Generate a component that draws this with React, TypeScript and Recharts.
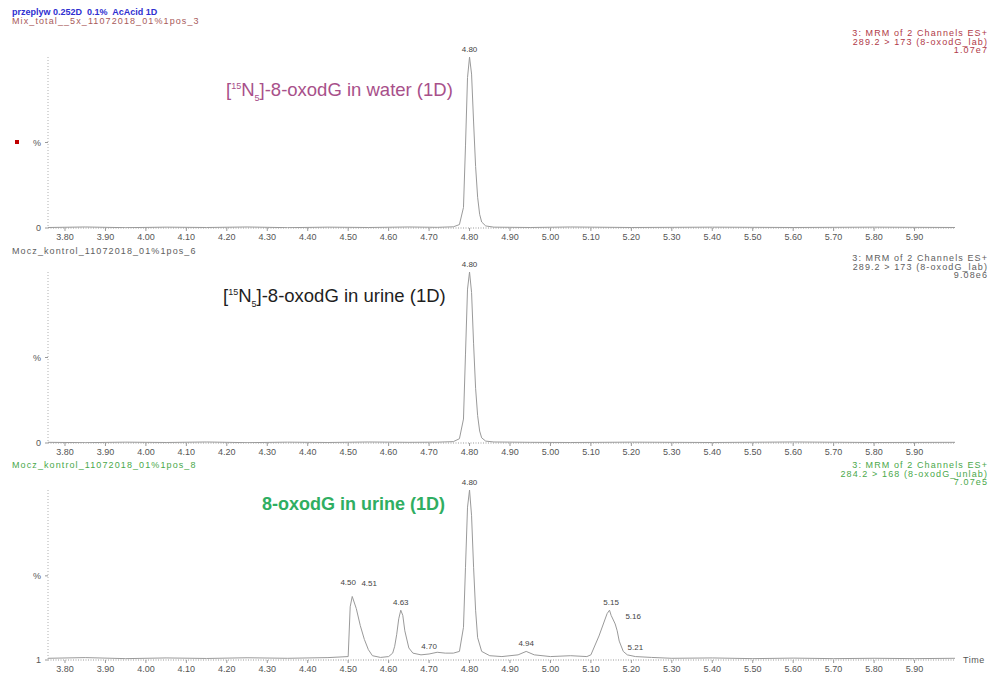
import React from "react";
import {
  LineChart,
  Line,
  XAxis,
  YAxis,
  ReferenceDot,
} from "recharts";

// retention time axis (min)
const timeTicks = [
  3.8, 3.9, 4.0, 4.1, 4.2, 4.3, 4.4, 4.5, 4.6, 4.7, 4.8, 4.9, 5.0, 5.1, 5.2,
  5.3, 5.4, 5.5, 5.6, 5.7, 5.8, 5.9,
];

// channel 1: labelled standard in water, 289.2 > 173
const waterTimes = [
  3.758, 3.85, 3.95, 4.05, 4.15, 4.25, 4.35, 4.45, 4.55, 4.65, 4.72, 4.76,
  4.775, 4.785, 4.79, 4.795, 4.8, 4.805, 4.81, 4.815, 4.82, 4.825, 4.83, 4.84,
  4.86, 4.95, 5.05, 5.2, 5.4, 5.6, 5.8, 6.0,
];
const waterSignal = [
  0.3, 0.6, 0.2, 0.5, 0.3, 0.6, 0.2, 0.5, 0.3, 0.6, 0.4, 0.7, 2, 12, 48, 88,
  100, 90, 62, 36, 18, 8, 3.5, 1.2, 0.5, 0.3, 0.6, 0.3, 0.5, 0.3, 0.5, 0.3,
];

// channel 2: labelled standard in urine, 289.2 > 173
const urineLabTimes = [
  3.758, 3.85, 3.95, 4.05, 4.15, 4.25, 4.35, 4.45, 4.55, 4.65, 4.72, 4.76,
  4.775, 4.785, 4.79, 4.795, 4.8, 4.805, 4.81, 4.815, 4.82, 4.825, 4.83, 4.84,
  4.86, 4.95, 5.05, 5.2, 5.4, 5.6, 5.8, 6.0,
];
const urineLabSignal = [
  0.4, 0.2, 0.5, 0.3, 0.6, 0.2, 0.5, 0.3, 0.6, 0.4, 0.5, 0.8, 2.5, 14, 52, 90,
  100, 88, 58, 32, 16, 7, 3, 1.1, 0.6, 0.4, 0.3, 0.5, 0.3, 0.6, 0.3, 0.4,
];

// channel 3: native 8-oxodG in urine, 284.2 > 168
const urineTimes = [
  3.758, 3.85, 3.95, 4.05, 4.15, 4.25, 4.35, 4.45, 4.5, 4.505, 4.51, 4.52,
  4.53, 4.54, 4.55, 4.56, 4.58, 4.6, 4.61, 4.615, 4.62, 4.625, 4.63, 4.635,
  4.64, 4.65, 4.66, 4.68, 4.7, 4.72, 4.74, 4.76, 4.775, 4.785, 4.79, 4.795,
  4.8, 4.805, 4.81, 4.815, 4.82, 4.83, 4.85, 4.88, 4.92, 4.94, 4.96, 5.0,
  5.05, 5.09, 5.1, 5.12, 5.14, 5.146, 5.15, 5.16, 5.165, 5.17, 5.18, 5.19,
  5.21, 5.25, 5.3, 5.4, 5.5, 5.6, 5.7, 5.8, 5.9, 6.0,
];
const urineSignal = [
  2, 2.4, 1.8, 2.2, 1.9, 2.3, 2, 2.4, 3, 32, 38, 31, 21, 13, 7, 3.5, 2.5, 3,
  5, 9, 16, 25, 30, 27, 18, 8, 5, 4, 4.5, 5.5, 5, 5, 6, 20, 55, 90, 100, 85,
  55, 30, 14, 6, 3.5, 3, 4, 6, 4, 3, 3.5, 3, 4, 15, 28, 30, 27, 22, 18, 12, 6,
  4, 3, 2.5, 2, 2.2, 1.8, 2.1, 1.8, 2, 1.8, 2,
];

// integrated peak apexes (retention time, height)
const waterPeakTimes = [4.8];
const waterPeakHeights = [100];
const urineLabPeakTimes = [4.8];
const urineLabPeakHeights = [100];
const urinePeakTimes = [4.5, 4.51, 4.63, 4.7, 4.8, 4.94, 5.15, 5.16, 5.21];
const urinePeakHeights = [42, 38, 30, 4.5, 100, 6, 30, 22, 3];

// label nudges for crowded apex labels (px)
const labelShift: Record<string, [number, number]> = {
  "4.51": [17, -5],
  "5.16": [18, 0],
  "5.21": [0, -2],
};

const toRows = (times: number[], values: number[]) =>
  times.map((t, i) => ({ t, v: values[i] }));

const TRACE = "#9a9a9a";
const FONT = "'Liberation Sans', Arial, sans-serif";

interface PanelProps {
  top: number;
  plotHeight: number;
  times: number[];
  values: number[];
  peakTimes: number[];
  peakHeights: number[];
  yDomain: [number, number];
  yTicks: number[];
  yZero: string;
}

const Panel: React.FC<PanelProps> = ({
  top,
  plotHeight,
  times,
  values,
  peakTimes,
  peakHeights,
  yDomain,
  yTicks,
  yZero,
}) => {
  const mt = 20;
  const data = toRows(times, values);
  return (
    <div style={{ position: "absolute", left: 0, top: top - mt }}>
      <LineChart
        width={992}
        height={mt + plotHeight + 22}
        data={data}
        margin={{ top: mt, right: 37, left: 28, bottom: 0 }}
      >
        <XAxis
          dataKey="t"
          type="number"
          domain={[3.758, 6.0]}
          ticks={timeTicks}
          allowDataOverflow
          tickFormatter={(v: number) => v.toFixed(2)}
          tick={{ fontSize: 9, fill: "#555", fontFamily: FONT }}
          tickSize={3}
          tickMargin={3}
          height={22}
          stroke="#9a9a9a"
          axisLine={{ stroke: "#9a9a9a", strokeDasharray: "1 1.5" }}
        />
        <YAxis
          type="number"
          domain={yDomain}
          ticks={yTicks}
          allowDataOverflow
          width={20}
          tickSize={3}
          tickMargin={4}
          tickFormatter={(v: number) => (v === yTicks[0] ? yZero : "%")}
          tick={{ fontSize: 9, fill: "#555", fontFamily: FONT }}
          stroke="#9a9a9a"
          axisLine={{ stroke: "#b0b0b0", strokeDasharray: "1 2" }}
        />
        <Line
          dataKey="v"
          type="linear"
          stroke={TRACE}
          strokeWidth={1}
          dot={false}
          isAnimationActive={false}
        />
        {peakTimes.map((t, i) => {
          const text = t.toFixed(2);
          const [dx, dy] = labelShift[text] ?? [0, 0];
          return (
            <ReferenceDot
              key={text}
              x={t}
              y={peakHeights[i]}
              r={1}
              fill="none"
              stroke="none"
              label={{
                content: (props: any) => {
                  const vb = props.viewBox ?? { x: 0, y: 0, width: 0 };
                  return (
                    <text
                      x={vb.x + vb.width / 2 + dx}
                      y={vb.y - 4 + dy}
                      textAnchor="middle"
                      fontSize={8}
                      fontFamily={FONT}
                      fill="#444"
                    >
                      {text}
                    </text>
                  );
                },
              }}
            />
          );
        })}
      </LineChart>
    </div>
  );
};

const small: React.CSSProperties = {
  position: "absolute",
  fontSize: 9,
  lineHeight: "9px",
  letterSpacing: 1.1,
  whiteSpace: "pre",
};

const RightHeader: React.FC<{ top: number; lines: string[]; color: string }> = ({
  top,
  lines,
  color,
}) => (
  <div
    style={{
      ...small,
      right: 4,
      top,
      textAlign: "right",
      color,
      lineHeight: "8.5px",
    }}
  >
    {lines.join("\n")}
  </div>
);

const title: React.CSSProperties = {
  position: "absolute",
  fontSize: 18.5,
  lineHeight: "18px",
  whiteSpace: "pre",
};

export default function App() {
  return (
    <div
      style={{
        position: "absolute",
        left: 0,
        top: 0,
        width: 992,
        height: 677,
        background: "#fff",
        fontFamily: FONT,
        overflow: "hidden",
      }}
    >
      <Panel
        top={57}
        plotHeight={171}
        times={waterTimes}
        values={waterSignal}
        peakTimes={waterPeakTimes}
        peakHeights={waterPeakHeights}
        yDomain={[0, 100]}
        yTicks={[0, 50]}
        yZero="0"
      />
      <Panel
        top={272}
        plotHeight={171}
        times={urineLabTimes}
        values={urineLabSignal}
        peakTimes={urineLabPeakTimes}
        peakHeights={urineLabPeakHeights}
        yDomain={[0, 100]}
        yTicks={[0, 50]}
        yZero="0"
      />
      <Panel
        top={490}
        plotHeight={170}
        times={urineTimes}
        values={urineSignal}
        peakTimes={urinePeakTimes}
        peakHeights={urinePeakHeights}
        yDomain={[1, 100]}
        yTicks={[1, 50]}
        yZero="1"
      />

      {/* run header */}
      <div
        style={{
          position: "absolute",
          left: 12,
          top: 7,
          fontSize: 9,
          fontWeight: 700,
          color: "#2f2fd0",
          whiteSpace: "pre",
        }}
      >
        {"przeplyw 0.252D  0.1%  AcAcid 1D"}
      </div>
      <div style={{ ...small, left: 12, top: 17, color: "#a85a5a" }}>
        Mix_total__5x_11072018_01%1pos_3
      </div>
      <div
        style={{
          position: "absolute",
          left: 15,
          top: 140,
          width: 4,
          height: 4,
          background: "#c00000",
        }}
      />
      <RightHeader
        top={29}
        color="#b03a48"
        lines={["3: MRM of 2 Channels ES+", "289.2 > 173 (8-oxodG_lab)", "1.07e7"]}
      />

      <div style={{ ...small, left: 12, top: 247, color: "#606060" }}>
        Mocz_kontrol_11072018_01%1pos_6
      </div>
      <RightHeader
        top={254}
        color="#606060"
        lines={["3: MRM of 2 Channels ES+", "289.2 > 173 (8-oxodG_lab)", "9.08e6"]}
      />

      <div style={{ ...small, left: 12, top: 461, color: "#4aa84a" }}>
        Mocz_kontrol_11072018_01%1pos_8
      </div>
      <RightHeader
        top={461}
        color="#4aa84a"
        lines={["3: MRM of 2 Channels ES+", "284.2 > 168 (8-oxodG_unlab)", "7.07e5"]}
      />

      <div style={{ ...small, left: 963, top: 656, color: "#555", letterSpacing: 0.5 }}>
        Time
      </div>

      {/* trace annotations */}
      <div style={{ ...title, left: 226, top: 77, color: "#a8508a" }}>
        [<sup style={{ fontSize: 9 }}>15</sup>N
        <sub style={{ fontSize: 9 }}>5</sub>]-8-oxodG in water (1D)
      </div>
      <div style={{ ...title, left: 223, top: 283, color: "#1e1e1e" }}>
        [<sup style={{ fontSize: 9 }}>15</sup>N
        <sub style={{ fontSize: 9 }}>5</sub>]-8-oxodG in urine (1D)
      </div>
      <div
        style={{
          ...title,
          fontSize: 18,
          left: 262,
          top: 495,
          color: "#2fae62",
          fontWeight: 700,
        }}
      >
        8-oxodG in urine (1D)
      </div>
    </div>
  );
}
